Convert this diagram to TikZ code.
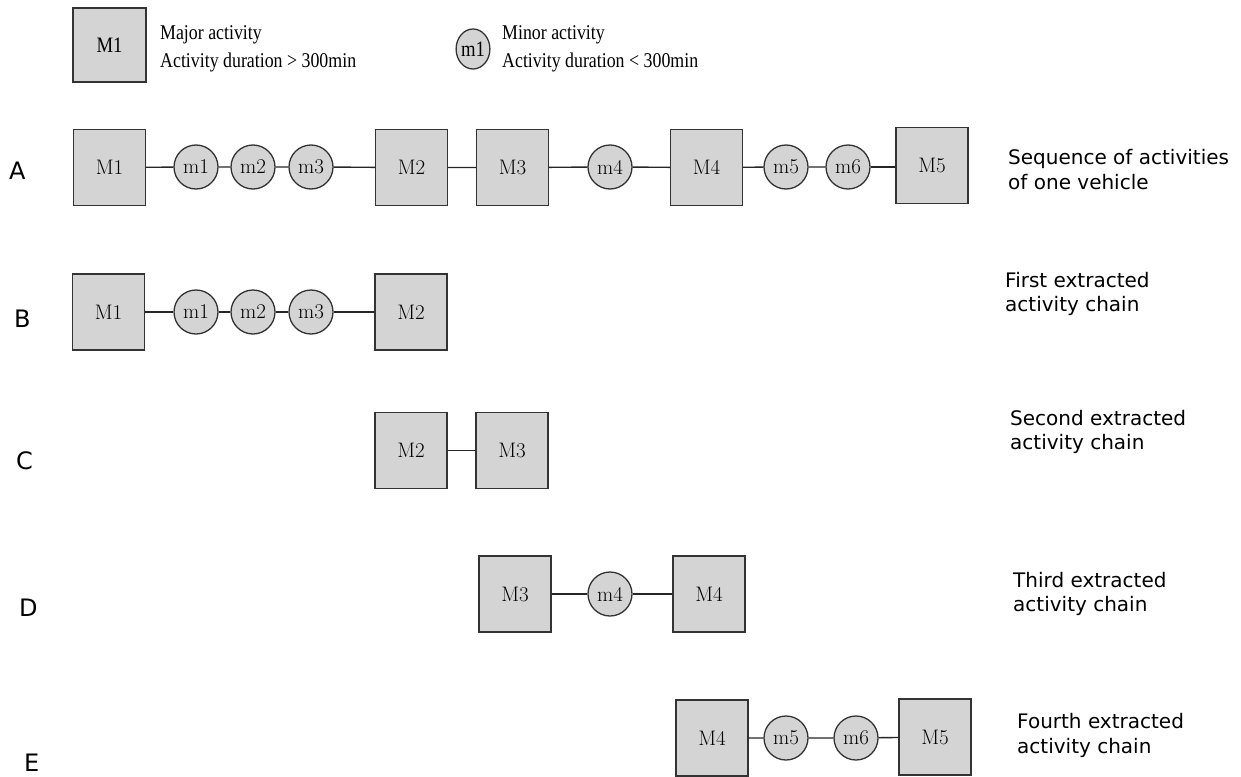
\documentclass[tikz,border=0pt]{standalone}
\usepackage{fontspec}
\usetikzlibrary{shapes.geometric}
\newfontfamily\dejavu{DejaVu Sans}
\newfontfamily\legfont[FakeStretch=0.85]{Liberation Serif}
\tikzset{
  major/.style={draw=black!80, line width=1.3pt, fill=black!17, minimum width=72pt, minimum height=76pt, inner sep=0pt, font=\fontsize{21}{23}\selectfont},
  minor/.style={draw=black!80, line width=1.3pt, fill=black!17, circle, minimum size=44pt, inner sep=0pt, font=\fontsize{21}{23}\selectfont},
  link/.style={draw=black!85, line width=1.4pt},
  rowlab/.style={anchor=base west, font=\dejavu\fontsize{24}{28}\selectfont, inner sep=0pt},
  desc/.style={anchor=base west, font=\dejavu\fontsize{20}{24}\selectfont, inner sep=0pt},
  leg/.style={anchor=base west, font=\legfont\fontsize{21}{24}\selectfont, inner sep=0pt}
}
\begin{document}
\begin{tikzpicture}[x=1pt,y=-1pt]
\useasboundingbox (0,0) rectangle (1241,776);
% legend
\node[major, minimum width=73pt, minimum height=74pt, font=\legfont\fontsize{22}{24}\selectfont] (LM) at (109.5,45) {M1};
\node[leg] (L1) at (160,40) {Major activity};
\node[leg] (L2) at (160,67) {Activity duration > 300min};
\node[draw=black!80, line width=1.3pt, fill=black!17, ellipse, minimum width=31pt, minimum height=40pt, inner sep=0pt, font=\legfont\fontsize{22}{24}\selectfont] (Lm) at (473,49) {m1};
\node[leg] (L3) at (502,40) {Minor activity};
\node[leg] (L4) at (502,67) {Activity duration < 300min};
% row labels
\node[rowlab] (rA) at (9,179) {A};
\node[rowlab] (rB) at (14,327) {B};
\node[rowlab] (rC) at (16,469) {C};
\node[rowlab] (rD) at (19,616) {D};
\node[rowlab] (rE) at (24,771) {E};
% descriptions
\node[desc] (dA1) at (1008,164) {Sequence of activities};
\node[desc] (dA2) at (1008,189) {of one vehicle};
\node[desc] (dB1) at (1005,287) {First extracted};
\node[desc] (dB2) at (1005,311) {activity chain};
\node[desc] (dC1) at (1010,425) {Second extracted};
\node[desc] (dC2) at (1010,449) {activity chain};
\node[desc] (dD1) at (1013,587) {Third extracted};
\node[desc] (dD2) at (1013,611) {activity chain};
\node[desc] (dE1) at (1017,728) {Fourth extracted};
\node[desc] (dE2) at (1017,753) {activity chain};
% row A
\node[major] (aM1) at (109.5,167.5) {M1};
\node[minor] (am1) at (196,167) {m1};
\node[minor] (am2) at (253,167) {m2};
\node[minor] (am3) at (311,167) {m3};
\node[major] (aM2) at (411.5,167.5) {M2};
\node[major] (aM3) at (512.5,167.5) {M3};
\node[minor] (am4) at (610,167) {m4};
\node[major] (aM4) at (706.5,167.5) {M4};
\node[minor] (am5) at (786,167) {m5};
\node[minor] (am6) at (848,167) {m6};
\node[major] (aM5) at (932,165.5) {M5};
\draw[link] (aM1) -- (am1) (am1) -- (am2) (am2) -- (am3) (am3) -- (aM2) (aM2) -- (aM3) (aM3) -- (am4) (am4) -- (aM4) (aM4) -- (am5) (am5) -- (am6);
\draw[link] (am6.east) -- (am6.east -| aM5.west);
% row B
\node[major] (bM1) at (108.5,312) {M1};
\node[minor] (bm1) at (196,312) {m1};
\node[minor] (bm2) at (253,312) {m2};
\node[minor] (bm3) at (311,312) {m3};
\node[major] (bM2) at (411,312) {M2};
\draw[link] (bM1) -- (bm1) (bm1) -- (bm2) (bm2) -- (bm3) (bm3) -- (bM2);
% row C
\node[major] (cM2) at (411,450.5) {M2};
\node[major] (cM3) at (512,450.5) {M3};
\draw[link] (cM2) -- (cM3);
% row D
\node[major] (dM3) at (515,594) {M3};
\node[minor] (dm4) at (610,594) {m4};
\node[major] (dM4) at (709,594) {M4};
\draw[link] (dM3) -- (dm4) (dm4) -- (dM4);
% row E
\node[major] (eM4) at (712,738) {M4};
\node[minor] (em5) at (786,738) {m5};
\node[minor] (em6) at (856,738) {m6};
\node[major] (eM5) at (935,737) {M5};
\draw[link] (eM4) -- (em5) (em5) -- (em6) (em6) -- (eM5);
\end{tikzpicture}
\end{document}
